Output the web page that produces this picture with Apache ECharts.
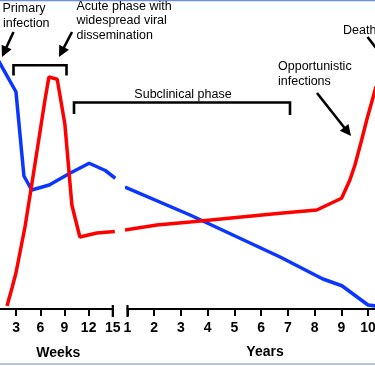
<!DOCTYPE html>
<html><head><meta charset="utf-8">
<script src="https://cdn.jsdelivr.net/npm/echarts@6/dist/echarts.min.js"></script>
<style>html,body{margin:0;padding:0;background:#fff}#c{width:375px;height:366px}</style>
</head><body><div id="c"></div>
<script>
// ---- data ----
const weekTicks = [3, 6, 9, 12, 15];
const yearTicks = [1, 2, 3, 4, 5, 6, 7, 8, 9, 10];
// [week, relative level]
const blueWeeks = [[0.8,99.4],[2.98,86.9],[3.97,53.2],[4.93,47.6],[7.11,49.6],[9.67,54.3],[12.07,58.3],[14.07,55.4],[15.31,52.3]];
const redWeeks  = [[1.87,1.2],[2.49,8.4],[2.98,14.4],[4.10,32.8],[5.09,52.8],[6.58,83.6],[7.07,92.8],[8.10,91.9],[9.05,74],[9.92,41.6],[10.91,28.8],[13.02,30.4],[15.25,31]];
// [year, relative level]
const blueYears = [[0.906,48.8],[3.34,37.6],[6.71,20.8],[8.31,12.0],[9.02,9.3],[10.0,1.6],[10.3,1.2]];
const redYears  = [[0.906,31.6],[2.10,33.6],[3.34,34.8],[6.71,38.3],[8.08,39.6],[9.01,44.3],[9.32,51.6],[9.51,57.6],[9.76,67.6],[9.95,75.6],[10.3,89]];
const axisNames = ['Weeks', 'Years'];
const notePrimary = ['Primary', 'infection'];
const noteAcute = ['Acute phase with', 'widespread viral', 'dissemination'];
const noteSub = 'Subclinical phase';
const noteOpp = ['Opportunistic', 'infections'];
const noteDeath = 'Death';

const FONT = '"Liberation Sans", Arial, sans-serif';
const BLUE = '#0a36ff', RED = '#ff0000';

const axisCommon = {
  type: 'value', min: 1,
  axisLine: { show: true, lineStyle: { color: '#000', width: 2 } },
  axisTick: { show: true, length: 7, lineStyle: { color: '#000', width: 2 } },
  axisLabel: { color: '#000', fontSize: 14, fontWeight: 'bold', fontFamily: FONT, margin: 12 },
  splitLine: { show: false }
};

const option = {
  animation: false,
  backgroundColor: '#fff',
  grid: [
    { left: 0, width: 112.8, top: 59, bottom: 57, outerBoundsMode: 'none' },
    { left: 127.5, right: 0, top: 59, bottom: 57, outerBoundsMode: 'none' }
  ],
  xAxis: [
    Object.assign({}, axisCommon, { gridIndex: 0, max: 15,
      axisTick: Object.assign({}, axisCommon.axisTick, { customValues: weekTicks }),
      axisLabel: Object.assign({}, axisCommon.axisLabel, { customValues: weekTicks }) }),
    Object.assign({}, axisCommon, { gridIndex: 1, max: 10.26,
      axisTick: Object.assign({}, axisCommon.axisTick, { customValues: yearTicks }),
      axisLabel: Object.assign({}, axisCommon.axisLabel, { customValues: yearTicks }) })
  ],
  yAxis: [
    { type: 'value', gridIndex: 0, min: 0, max: 100, show: false },
    { type: 'value', gridIndex: 1, min: 0, max: 100, show: false }
  ],
  series: [
    { type: 'line', xAxisIndex: 0, yAxisIndex: 0, data: blueWeeks, symbol: 'none', clip: false, lineStyle: { color: BLUE, width: 3.5 } },
    { type: 'line', xAxisIndex: 0, yAxisIndex: 0, data: redWeeks, symbol: 'none', clip: false, lineStyle: { color: RED, width: 3.5 } },
    { type: 'line', xAxisIndex: 1, yAxisIndex: 1, data: blueYears, symbol: 'none', clip: false, lineStyle: { color: BLUE, width: 3.5 } },
    { type: 'line', xAxisIndex: 1, yAxisIndex: 1, data: redYears, symbol: 'none', clip: false, lineStyle: { color: RED, width: 3.5 } }
  ]
};

const chart = echarts.init(document.getElementById('c'));
chart.setOption(option);

function txt(x, y, s, opts) {
  return { type: 'text', z: 10, style: Object.assign({ x: x, y: y, text: s, fill: '#000', font: '12.5px ' + FONT, verticalAlign: 'middle', align: 'left' }, opts || {}) };
}
function arrow(x1, y1, x2, y2) {
  const dx = x2 - x1, dy = y2 - y1, L = Math.hypot(dx, dy);
  const ux = dx / L, uy = dy / L, px = -uy, py = ux;
  const hl = 11, hw = 5.5;
  const bx = x2 - ux * hl, by = y2 - uy * hl;
  return [
    { type: 'line', z: 10, shape: { x1: x1, y1: y1, x2: bx + ux * 2, y2: by + uy * 2 }, style: { stroke: '#000', lineWidth: 2.6 } },
    { type: 'polygon', z: 10, shape: { points: [[x2, y2], [bx + px * hw, by + py * hw], [bx - px * hw, by - py * hw]] }, style: { fill: '#000' } }
  ];
}

const p15 = chart.convertToPixel({ gridIndex: 0 }, [15, 0]);
const p1 = chart.convertToPixel({ gridIndex: 1 }, [1, 0]);

let g = [];
// frame lines
g.push({ type: 'line', z: 10, shape: { x1: 0, y1: 0.6, x2: 375, y2: 0.6 }, style: { stroke: '#6f8fdc', lineWidth: 1.5 } });
g.push({ type: 'line', z: 10, shape: { x1: 0, y1: 364, x2: 375, y2: 364 }, style: { stroke: '#9ab0e3', lineWidth: 1.5 } });
// axis break ticks
g.push({ type: 'line', z: 10, shape: { x1: p15[0], y1: p15[1] - 4, x2: p15[0], y2: p15[1] + 8 }, style: { stroke: '#000', lineWidth: 2.2 } });
g.push({ type: 'line', z: 10, shape: { x1: p1[0], y1: p1[1] - 4, x2: p1[0], y2: p1[1] + 8 }, style: { stroke: '#000', lineWidth: 2.2 } });
// axis names
g.push(txt(58.3, 353.3, axisNames[0], { font: 'bold 14px ' + FONT, align: 'center' }));
g.push(txt(265, 352.6, axisNames[1], { font: 'bold 14px ' + FONT, align: 'center' }));
// annotations
g.push(txt(2.5, 8.4, notePrimary[0]));
g.push(txt(3, 23.5, notePrimary[1]));
g.push(txt(76.5, 6.2, noteAcute[0]));
g.push(txt(76.5, 20.7, noteAcute[1]));
g.push(txt(76.5, 35.2, noteAcute[2]));
g.push(txt(183, 95, noteSub, { align: 'center' }));
g.push(txt(278, 67, noteOpp[0]));
g.push(txt(278, 82, noteOpp[1]));
g.push(txt(343, 30.5, noteDeath));
// brackets
g.push({ type: 'polyline', z: 10, shape: { points: [[13.5, 75.5], [13.5, 65.3], [66.5, 65.3], [66.5, 75.5]] }, style: { stroke: '#000', lineWidth: 2.6, fill: null } });
g.push({ type: 'polyline', z: 10, shape: { points: [[74, 114], [74, 102.5], [290, 102.5], [290, 115]] }, style: { stroke: '#000', lineWidth: 2.6, fill: null } });
// arrows
g = g.concat(arrow(13.5, 32, 2, 57));
g = g.concat(arrow(72, 32, 59, 57));
g = g.concat(arrow(317, 93, 351, 136));
g = g.concat(arrow(367.5, 37, 386, 61));

chart.setOption({ graphic: g });
</script>
</body></html>
